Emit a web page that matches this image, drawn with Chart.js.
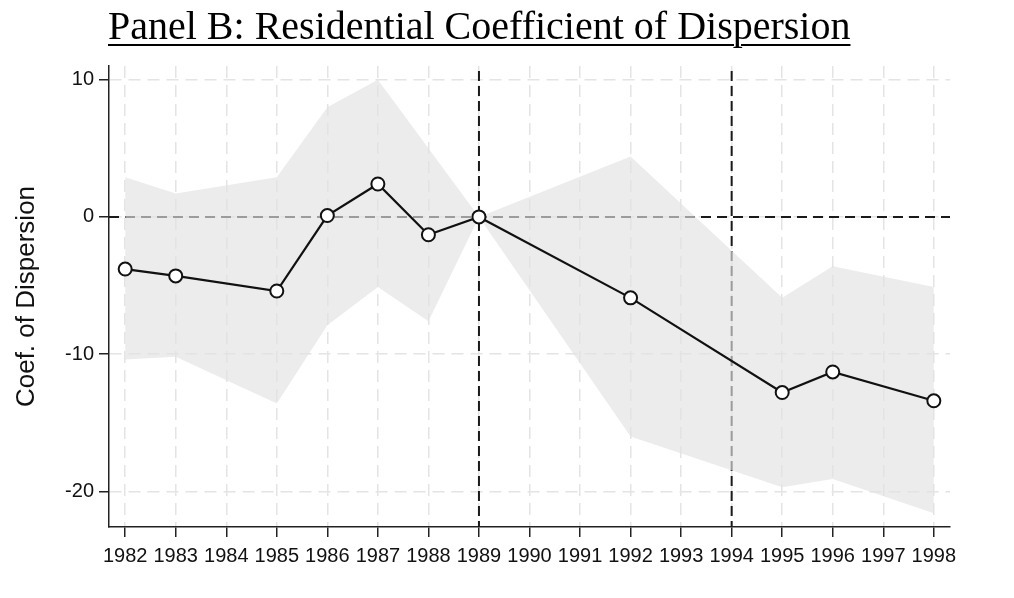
<!DOCTYPE html>
<html>
<head>
<meta charset="utf-8">
<script src="https://cdn.jsdelivr.net/npm/chart.js@4.4.1/dist/chart.umd.min.js"></script>
<style>
html, body { margin: 0; padding: 0; background: #fff; }
#wrap { position: relative; width: 1014px; height: 598px; }
#chart { position: absolute; left: 0; top: 0; }
#title {
    position: absolute; left: 108px; top: 6px;
    font-family: "Liberation Serif", "Times New Roman", serif;
    font-size: 40px; line-height: 40px; color: #000; white-space: nowrap;
    text-decoration: underline; text-decoration-thickness: 2px; text-underline-offset: 5px;
}
</style>
</head>
<body>
<div id="wrap">
    <canvas id="chart" width="1014" height="598"></canvas>
    <div id="title">Panel B: Residential Coefficient of Dispersion</div>
</div>
<script>
// estimates
const years   = [1982, 1983, 1985, 1986, 1987, 1988, 1989, 1992, 1995, 1996, 1998];
const coef    = [-3.8, -4.3, -5.4, 0.1, 2.4, -1.3, 0, -5.9, -12.8, -11.3, -13.4];
const ciUpper = [2.9, 1.7, 2.9, 8.0, 10.0, 5.0, 0, 4.4, -5.9, -3.6, -5.1];
const ciLower = [-10.4, -10.2, -13.6, -7.9, -5.1, -7.6, 0, -16.0, -19.7, -19.1, -21.6];

const xTicks = [1982, 1983, 1984, 1985, 1986, 1987, 1988, 1989, 1990,
                1991, 1992, 1993, 1994, 1995, 1996, 1997, 1998];
const yTicks = [10, 0, -10, -20];
const eventYears = [1989, 1994];
const baseline = 0;

const tickFont = { family: "'Liberation Sans', Arial, sans-serif", size: 20 };

function toPoints( ys )
{
    return years.map( (yr, i) => ({ x: yr, y: ys[i] }) );
}

// dashed reference lines, drawn under the band like in the original
const refLines = {
    id: 'refLines',
    beforeDatasetsDraw( chart )
    {
        const { ctx, chartArea, scales } = chart;
        ctx.save();
        ctx.strokeStyle = '#1a1a1a';
        ctx.lineWidth = 2;

        ctx.setLineDash([10, 6]);
        const y0 = scales.y.getPixelForValue(baseline);
        ctx.beginPath();
        ctx.moveTo(chartArea.left, y0);
        ctx.lineTo(chartArea.right, y0);
        ctx.stroke();

        ctx.setLineDash([10, 5]);
        eventYears.forEach( (yr) =>
        {
            const px = scales.x.getPixelForValue(yr);
            ctx.beginPath();
            ctx.moveTo(px, chartArea.top + 5);
            ctx.lineTo(px, chartArea.bottom);
            ctx.stroke();
        } );
        ctx.restore();
    }
};

new Chart(document.getElementById('chart'),
{
    type: 'scatter',
    data: {
        datasets: [
            {
                data: toPoints(coef),
                showLine: true,
                borderColor: '#111',
                borderWidth: 2.2,
                pointRadius: 6.5,
                pointBackgroundColor: '#fff',
                pointBorderColor: '#111',
                pointBorderWidth: 2,
                fill: false,
            },
            {
                data: toPoints(ciUpper),
                showLine: true,
                borderColor: 'rgba(0,0,0,0)',
                pointRadius: 0,
                fill: '+1',
                backgroundColor: 'rgba(226,226,226,0.65)',
            },
            {
                data: toPoints(ciLower),
                showLine: true,
                borderColor: 'rgba(0,0,0,0)',
                pointRadius: 0,
                fill: false,
            },
        ]
    },
    options: {
        responsive: false,
        animation: false,
        layout: { padding: { top: 66, right: 64, left: 0, bottom: 0 } },
        plugins: {
            legend: { display: false },
            tooltip: { enabled: false },
        },
        scales: {
            x: {
                type: 'linear',
                min: 1981.68,
                max: 1998.32,
                afterBuildTicks: (s) => { s.ticks = xTicks.map( (v) => ({ value: v }) ); },
                afterFit: (s) => { s.height = 71; },
                ticks: {
                    callback: (v) => String(v),
                    font: tickFont,
                    color: '#111',
                    padding: 7,
                    maxRotation: 0,
                    autoSkip: false,
                },
                grid: { color: '#e4e4e4', lineWidth: 1.5, tickColor: '#222', tickLength: 10, tickWidth: 1.5 },
                border: { color: '#222', width: 1.5, dash: [12, 7] },
            },
            y: {
                min: -22.6,
                max: 11,
                afterBuildTicks: (s) => { s.ticks = yTicks.map( (v) => ({ value: v }) ); },
                afterFit: (s) => { s.width = 109; },
                ticks: {
                    callback: (v) => String(v),
                    font: tickFont,
                    color: '#111',
                    padding: 5,
                },
                title: {
                    display: true,
                    text: 'Coef. of Dispersion',
                    font: { family: "'Liberation Sans', Arial, sans-serif", size: 26 },
                    color: '#111',
                    padding: { top: 11, bottom: 0 },
                },
                grid: { color: '#e4e4e4', lineWidth: 1.5, tickColor: '#222', tickLength: 10, tickWidth: 1.5 },
                border: { color: '#222', width: 1.5, dash: [12, 7] },
            },
        },
    },
    plugins: [refLines],
});
</script>
</body>
</html>
